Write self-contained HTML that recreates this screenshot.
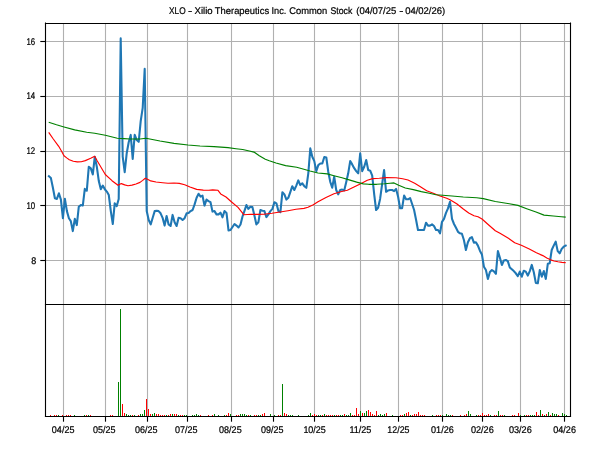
<!DOCTYPE html>
<html><head><meta charset="utf-8"><title>XLO</title>
<style>
html,body{margin:0;padding:0;background:#fff;}
body{width:600px;height:450px;overflow:hidden;}
svg{display:block;will-change:transform;transform:translateZ(0);}
text{font-family:"Liberation Sans",sans-serif;fill:#000;stroke:#000;stroke-width:0.22px;text-rendering:geometricPrecision;}
</style></head><body>
<svg width="600" height="450" viewBox="0 0 600 450">
<rect x="0" y="0" width="600" height="450" fill="#ffffff"/>
<g stroke="#b0b0b0" stroke-width="1.11" fill="none">
<line x1="63.5" y1="23.5" x2="63.5" y2="416.5"/>
<line x1="105.5" y1="23.5" x2="105.5" y2="416.5"/>
<line x1="147.5" y1="23.5" x2="147.5" y2="416.5"/>
<line x1="187.5" y1="23.5" x2="187.5" y2="416.5"/>
<line x1="231.5" y1="23.5" x2="231.5" y2="416.5"/>
<line x1="273.5" y1="23.5" x2="273.5" y2="416.5"/>
<line x1="314.5" y1="23.5" x2="314.5" y2="416.5"/>
<line x1="360.5" y1="23.5" x2="360.5" y2="416.5"/>
<line x1="398.5" y1="23.5" x2="398.5" y2="416.5"/>
<line x1="442.5" y1="23.5" x2="442.5" y2="416.5"/>
<line x1="482.5" y1="23.5" x2="482.5" y2="416.5"/>
<line x1="520.5" y1="23.5" x2="520.5" y2="416.5"/>
<line x1="564.5" y1="23.5" x2="564.5" y2="416.5"/>
<line x1="45.5" y1="41.5" x2="570.5" y2="41.5"/>
<line x1="45.5" y1="96.5" x2="570.5" y2="96.5"/>
<line x1="45.5" y1="151.5" x2="570.5" y2="151.5"/>
<line x1="45.5" y1="205.5" x2="570.5" y2="205.5"/>
<line x1="45.5" y1="260.5" x2="570.5" y2="260.5"/>
</g>
<g>
<rect x="50" y="415" width="1" height="1" fill="#ff0000"/>
<rect x="54" y="415" width="1" height="1" fill="#ff0000"/>
<rect x="56" y="415" width="1" height="1" fill="#ff0000"/>
<rect x="58" y="415" width="1" height="1" fill="#008000"/>
<rect x="62" y="415" width="1" height="1" fill="#ff0000"/>
<rect x="66" y="415" width="1" height="1" fill="#ff0000"/>
<rect x="68" y="415" width="1" height="1" fill="#ff0000"/>
<rect x="70" y="415" width="1" height="1" fill="#ff0000"/>
<rect x="74" y="415" width="1" height="1" fill="#008000"/>
<rect x="84" y="415" width="1" height="1" fill="#008000"/>
<rect x="86" y="415" width="1" height="1" fill="#ff0000"/>
<rect x="88" y="415" width="1" height="1" fill="#008000"/>
<rect x="90" y="415" width="1" height="1" fill="#ff0000"/>
<rect x="110" y="415" width="1" height="1" fill="#ff0000"/>
<rect x="112" y="415" width="1" height="1" fill="#ff0000"/>
<rect x="118" y="382" width="1" height="34" fill="#008000"/>
<rect x="120" y="309" width="1" height="107" fill="#008000"/>
<rect x="122" y="404" width="1" height="12" fill="#ff0000"/>
<rect x="124" y="413" width="1" height="3" fill="#ff0000"/>
<rect x="126" y="414" width="1" height="2" fill="#008000"/>
<rect x="128" y="415" width="1" height="1" fill="#008000"/>
<rect x="130" y="415" width="1" height="1" fill="#008000"/>
<rect x="132" y="415" width="1" height="1" fill="#ff0000"/>
<rect x="134" y="415" width="1" height="1" fill="#008000"/>
<rect x="138" y="415" width="1" height="1" fill="#ff0000"/>
<rect x="140" y="414" width="1" height="2" fill="#008000"/>
<rect x="142" y="414" width="1" height="2" fill="#008000"/>
<rect x="144" y="410" width="1" height="6" fill="#008000"/>
<rect x="146" y="399" width="1" height="17" fill="#ff0000"/>
<rect x="148" y="409" width="1" height="7" fill="#ff0000"/>
<rect x="150" y="414" width="1" height="2" fill="#ff0000"/>
<rect x="152" y="414" width="1" height="2" fill="#008000"/>
<rect x="154" y="413" width="1" height="3" fill="#008000"/>
<rect x="156" y="414" width="1" height="2" fill="#ff0000"/>
<rect x="158" y="414" width="1" height="2" fill="#ff0000"/>
<rect x="160" y="415" width="1" height="1" fill="#ff0000"/>
<rect x="162" y="415" width="1" height="1" fill="#ff0000"/>
<rect x="164" y="415" width="1" height="1" fill="#ff0000"/>
<rect x="166" y="415" width="1" height="1" fill="#008000"/>
<rect x="168" y="415" width="1" height="1" fill="#ff0000"/>
<rect x="170" y="414" width="1" height="2" fill="#ff0000"/>
<rect x="172" y="414" width="1" height="2" fill="#008000"/>
<rect x="174" y="414" width="1" height="2" fill="#ff0000"/>
<rect x="176" y="414" width="1" height="2" fill="#ff0000"/>
<rect x="178" y="415" width="1" height="1" fill="#008000"/>
<rect x="180" y="415" width="1" height="1" fill="#ff0000"/>
<rect x="182" y="415" width="1" height="1" fill="#ff0000"/>
<rect x="184" y="415" width="1" height="1" fill="#008000"/>
<rect x="186" y="415" width="1" height="1" fill="#008000"/>
<rect x="192" y="415" width="1" height="1" fill="#008000"/>
<rect x="194" y="415" width="1" height="1" fill="#008000"/>
<rect x="196" y="414" width="1" height="2" fill="#008000"/>
<rect x="198" y="415" width="1" height="1" fill="#008000"/>
<rect x="200" y="415" width="1" height="1" fill="#ff0000"/>
<rect x="208" y="415" width="1" height="1" fill="#ff0000"/>
<rect x="212" y="415" width="1" height="1" fill="#ff0000"/>
<rect x="214" y="414" width="1" height="2" fill="#008000"/>
<rect x="218" y="415" width="1" height="1" fill="#008000"/>
<rect x="224" y="415" width="1" height="1" fill="#008000"/>
<rect x="226" y="415" width="1" height="1" fill="#ff0000"/>
<rect x="228" y="413" width="1" height="3" fill="#ff0000"/>
<rect x="230" y="414" width="1" height="2" fill="#008000"/>
<rect x="236" y="415" width="1" height="1" fill="#ff0000"/>
<rect x="238" y="415" width="1" height="1" fill="#ff0000"/>
<rect x="240" y="414" width="1" height="2" fill="#008000"/>
<rect x="242" y="414" width="1" height="2" fill="#008000"/>
<rect x="244" y="414" width="1" height="2" fill="#008000"/>
<rect x="246" y="415" width="1" height="1" fill="#008000"/>
<rect x="248" y="415" width="1" height="1" fill="#ff0000"/>
<rect x="250" y="415" width="1" height="1" fill="#008000"/>
<rect x="254" y="415" width="1" height="1" fill="#ff0000"/>
<rect x="256" y="415" width="1" height="1" fill="#ff0000"/>
<rect x="258" y="415" width="1" height="1" fill="#008000"/>
<rect x="260" y="415" width="1" height="1" fill="#008000"/>
<rect x="262" y="414" width="1" height="2" fill="#ff0000"/>
<rect x="264" y="413" width="1" height="3" fill="#ff0000"/>
<rect x="270" y="414" width="1" height="2" fill="#008000"/>
<rect x="274" y="415" width="1" height="1" fill="#008000"/>
<rect x="278" y="415" width="1" height="1" fill="#ff0000"/>
<rect x="280" y="415" width="1" height="1" fill="#ff0000"/>
<rect x="282" y="384" width="1" height="32" fill="#008000"/>
<rect x="284" y="413" width="1" height="3" fill="#ff0000"/>
<rect x="286" y="414" width="1" height="2" fill="#ff0000"/>
<rect x="288" y="415" width="1" height="1" fill="#008000"/>
<rect x="290" y="415" width="1" height="1" fill="#008000"/>
<rect x="292" y="415" width="1" height="1" fill="#008000"/>
<rect x="298" y="415" width="1" height="1" fill="#008000"/>
<rect x="308" y="415" width="1" height="1" fill="#008000"/>
<rect x="310" y="413" width="1" height="3" fill="#008000"/>
<rect x="312" y="415" width="1" height="1" fill="#ff0000"/>
<rect x="314" y="414" width="1" height="2" fill="#ff0000"/>
<rect x="316" y="415" width="1" height="1" fill="#ff0000"/>
<rect x="318" y="415" width="1" height="1" fill="#008000"/>
<rect x="320" y="415" width="1" height="1" fill="#008000"/>
<rect x="322" y="415" width="1" height="1" fill="#ff0000"/>
<rect x="324" y="414" width="1" height="2" fill="#008000"/>
<rect x="326" y="415" width="1" height="1" fill="#ff0000"/>
<rect x="328" y="415" width="1" height="1" fill="#ff0000"/>
<rect x="330" y="415" width="1" height="1" fill="#ff0000"/>
<rect x="332" y="415" width="1" height="1" fill="#ff0000"/>
<rect x="334" y="415" width="1" height="1" fill="#008000"/>
<rect x="336" y="415" width="1" height="1" fill="#ff0000"/>
<rect x="338" y="415" width="1" height="1" fill="#ff0000"/>
<rect x="340" y="415" width="1" height="1" fill="#008000"/>
<rect x="342" y="415" width="1" height="1" fill="#008000"/>
<rect x="344" y="414" width="1" height="2" fill="#ff0000"/>
<rect x="346" y="415" width="1" height="1" fill="#008000"/>
<rect x="348" y="415" width="1" height="1" fill="#008000"/>
<rect x="350" y="413" width="1" height="3" fill="#008000"/>
<rect x="352" y="415" width="1" height="1" fill="#ff0000"/>
<rect x="354" y="415" width="1" height="1" fill="#ff0000"/>
<rect x="356" y="408" width="1" height="8" fill="#ff0000"/>
<rect x="358" y="414" width="1" height="2" fill="#ff0000"/>
<rect x="360" y="411" width="1" height="5" fill="#008000"/>
<rect x="362" y="413" width="1" height="3" fill="#ff0000"/>
<rect x="364" y="413" width="1" height="3" fill="#008000"/>
<rect x="366" y="411" width="1" height="5" fill="#008000"/>
<rect x="368" y="410" width="1" height="6" fill="#ff0000"/>
<rect x="370" y="412" width="1" height="4" fill="#ff0000"/>
<rect x="372" y="414" width="1" height="2" fill="#ff0000"/>
<rect x="374" y="415" width="1" height="1" fill="#ff0000"/>
<rect x="376" y="411" width="1" height="5" fill="#ff0000"/>
<rect x="378" y="415" width="1" height="1" fill="#008000"/>
<rect x="380" y="414" width="1" height="2" fill="#008000"/>
<rect x="382" y="415" width="1" height="1" fill="#008000"/>
<rect x="384" y="414" width="1" height="2" fill="#008000"/>
<rect x="386" y="413" width="1" height="3" fill="#ff0000"/>
<rect x="392" y="415" width="1" height="1" fill="#008000"/>
<rect x="400" y="415" width="1" height="1" fill="#ff0000"/>
<rect x="402" y="415" width="1" height="1" fill="#ff0000"/>
<rect x="404" y="414" width="1" height="2" fill="#008000"/>
<rect x="406" y="413" width="1" height="3" fill="#ff0000"/>
<rect x="408" y="412" width="1" height="4" fill="#ff0000"/>
<rect x="410" y="415" width="1" height="1" fill="#008000"/>
<rect x="412" y="415" width="1" height="1" fill="#ff0000"/>
<rect x="414" y="414" width="1" height="2" fill="#ff0000"/>
<rect x="416" y="414" width="1" height="2" fill="#ff0000"/>
<rect x="418" y="412" width="1" height="4" fill="#ff0000"/>
<rect x="420" y="415" width="1" height="1" fill="#ff0000"/>
<rect x="422" y="415" width="1" height="1" fill="#ff0000"/>
<rect x="424" y="415" width="1" height="1" fill="#ff0000"/>
<rect x="432" y="415" width="1" height="1" fill="#008000"/>
<rect x="436" y="415" width="1" height="1" fill="#ff0000"/>
<rect x="438" y="415" width="1" height="1" fill="#ff0000"/>
<rect x="440" y="415" width="1" height="1" fill="#ff0000"/>
<rect x="442" y="415" width="1" height="1" fill="#008000"/>
<rect x="446" y="414" width="1" height="2" fill="#008000"/>
<rect x="448" y="415" width="1" height="1" fill="#008000"/>
<rect x="450" y="415" width="1" height="1" fill="#008000"/>
<rect x="452" y="415" width="1" height="1" fill="#ff0000"/>
<rect x="460" y="415" width="1" height="1" fill="#ff0000"/>
<rect x="464" y="415" width="1" height="1" fill="#ff0000"/>
<rect x="466" y="414" width="1" height="2" fill="#ff0000"/>
<rect x="468" y="411" width="1" height="5" fill="#008000"/>
<rect x="470" y="414" width="1" height="2" fill="#008000"/>
<rect x="476" y="415" width="1" height="1" fill="#008000"/>
<rect x="478" y="415" width="1" height="1" fill="#ff0000"/>
<rect x="480" y="415" width="1" height="1" fill="#ff0000"/>
<rect x="482" y="413" width="1" height="3" fill="#ff0000"/>
<rect x="484" y="415" width="1" height="1" fill="#ff0000"/>
<rect x="486" y="415" width="1" height="1" fill="#ff0000"/>
<rect x="488" y="414" width="1" height="2" fill="#ff0000"/>
<rect x="490" y="415" width="1" height="1" fill="#008000"/>
<rect x="494" y="415" width="1" height="1" fill="#ff0000"/>
<rect x="496" y="415" width="1" height="1" fill="#ff0000"/>
<rect x="498" y="411" width="1" height="5" fill="#008000"/>
<rect x="500" y="415" width="1" height="1" fill="#ff0000"/>
<rect x="502" y="415" width="1" height="1" fill="#ff0000"/>
<rect x="504" y="415" width="1" height="1" fill="#008000"/>
<rect x="512" y="415" width="1" height="1" fill="#ff0000"/>
<rect x="514" y="415" width="1" height="1" fill="#ff0000"/>
<rect x="518" y="413" width="1" height="3" fill="#ff0000"/>
<rect x="520" y="415" width="1" height="1" fill="#008000"/>
<rect x="524" y="415" width="1" height="1" fill="#008000"/>
<rect x="526" y="415" width="1" height="1" fill="#ff0000"/>
<rect x="528" y="415" width="1" height="1" fill="#ff0000"/>
<rect x="530" y="415" width="1" height="1" fill="#008000"/>
<rect x="532" y="415" width="1" height="1" fill="#008000"/>
<rect x="534" y="415" width="1" height="1" fill="#008000"/>
<rect x="536" y="412" width="1" height="4" fill="#ff0000"/>
<rect x="538" y="415" width="1" height="1" fill="#ff0000"/>
<rect x="540" y="410" width="1" height="6" fill="#008000"/>
<rect x="542" y="414" width="1" height="2" fill="#ff0000"/>
<rect x="544" y="415" width="1" height="1" fill="#008000"/>
<rect x="546" y="414" width="1" height="2" fill="#ff0000"/>
<rect x="548" y="412" width="1" height="4" fill="#008000"/>
<rect x="550" y="415" width="1" height="1" fill="#ff0000"/>
<rect x="552" y="413" width="1" height="3" fill="#008000"/>
<rect x="554" y="414" width="1" height="2" fill="#008000"/>
<rect x="556" y="414" width="1" height="2" fill="#008000"/>
<rect x="558" y="415" width="1" height="1" fill="#ff0000"/>
<rect x="562" y="413" width="1" height="3" fill="#008000"/>
<rect x="564" y="414" width="1" height="2" fill="#008000"/>
<rect x="566" y="415" width="1" height="1" fill="#008000"/>
</g>
<polyline fill="none" stroke="#1f77b4" stroke-width="2.08" stroke-linejoin="round" stroke-linecap="square" points="48.9,176.2 50.9,178.1 52.9,187.8 54.9,198.2 56.9,198.9 58.9,193.3 60.9,199.6 62.9,218.2 64.9,198.9 66.9,211.1 68.9,218.2 70.8,221.1 72.8,231.1 74.8,218.9 76.8,225.1 78.8,206.7 80.8,205.1 82.8,205.6 84.8,188.9 86.8,190.7 88.8,166.7 90.8,168.4 92.8,174.4 94.8,156.7 96.8,166.7 98.8,181.1 100.8,189.3 102.8,185.6 104.8,189.3 106.8,191.6 108.8,195.1 110.8,211.1 112.8,224.0 114.7,203.3 116.7,206.2 118.7,198.9 120.7,38.4 122.7,156.7 124.7,172.2 126.7,153.3 128.7,142.2 130.7,134.9 132.7,158.9 134.7,134.9 136.7,140.0 138.7,141.8 140.7,121.1 142.7,107.8 144.7,68.9 146.7,211.1 148.7,220.0 150.7,224.4 152.7,217.8 154.7,211.1 156.7,210.7 158.6,211.1 160.6,213.3 162.6,217.8 164.6,225.6 166.6,216.0 168.6,224.4 170.6,226.0 172.6,214.9 174.6,222.2 176.6,226.0 178.6,217.8 180.6,218.2 182.6,220.0 184.6,218.2 186.6,213.3 188.6,212.9 190.6,211.1 192.6,210.0 194.6,204.4 196.6,197.8 198.6,193.8 200.6,196.7 202.5,195.6 204.5,205.6 206.5,199.6 208.5,201.1 210.5,202.2 212.5,211.6 214.5,211.1 216.5,214.4 218.5,214.4 220.5,212.7 222.5,217.3 224.5,211.1 226.5,212.9 228.5,230.4 230.5,230.0 232.5,227.0 234.5,224.0 236.5,225.6 238.5,227.5 240.5,224.5 242.5,216.5 244.4,211.1 246.4,205.1 248.4,208.9 250.4,206.7 252.4,207.1 254.4,215.6 256.4,224.4 258.4,222.2 260.4,210.0 262.4,210.7 264.4,211.1 266.4,217.1 268.4,214.4 270.4,211.1 272.4,208.9 274.4,202.2 276.4,203.3 278.4,211.1 280.4,212.2 282.4,192.2 284.4,194.4 286.4,199.6 288.3,197.8 290.3,192.2 292.3,186.2 294.3,190.0 296.3,185.6 298.3,180.4 300.3,185.1 302.3,183.3 304.3,186.2 306.3,187.8 308.3,173.3 310.3,148.4 312.3,156.7 314.3,161.1 316.3,171.1 318.3,165.1 320.3,163.5 322.3,163.5 324.3,157.0 326.3,157.5 328.3,172.0 330.3,182.0 332.2,187.8 334.2,176.7 336.2,190.0 338.2,194.4 340.2,190.0 342.2,189.6 344.2,190.4 346.2,182.2 348.2,173.3 350.2,161.1 352.2,164.4 354.2,168.2 356.2,171.1 358.2,173.3 360.2,153.3 362.2,171.1 364.2,166.7 366.2,160.0 368.2,170.0 370.2,170.7 372.2,175.6 374.2,194.4 376.1,210.0 378.1,207.8 380.1,198.9 382.1,184.4 384.1,170.0 386.1,191.8 388.1,190.4 390.1,190.0 392.1,190.0 394.1,191.1 396.1,188.9 398.1,196.7 400.1,208.2 402.1,208.2 404.1,195.6 406.1,199.3 408.1,199.3 410.1,198.0 412.1,204.0 414.1,210.0 416.1,220.0 418.0,230.0 420.0,230.0 422.0,230.0 424.0,230.0 426.0,222.7 428.0,225.6 430.0,225.6 432.0,224.4 434.0,226.0 436.0,230.0 438.0,230.0 440.0,233.3 442.0,221.8 444.0,218.9 446.0,212.9 448.0,208.4 450.0,201.8 452.0,218.9 454.0,224.0 456.0,227.8 458.0,231.8 460.0,233.3 461.9,233.8 463.9,240.0 465.9,250.0 467.9,242.2 469.9,238.2 471.9,237.1 473.9,242.7 475.9,242.2 477.9,245.6 479.9,250.7 481.9,254.4 483.9,266.7 485.9,270.0 487.9,279.0 489.9,272.0 491.9,270.0 493.9,271.4 495.9,273.8 497.9,251.0 499.9,257.8 501.9,265.0 503.9,260.4 505.8,260.0 507.8,261.1 509.8,267.5 511.8,269.3 513.8,271.1 515.8,273.3 517.8,276.2 519.8,271.6 521.8,276.7 523.8,270.7 525.8,271.6 527.8,275.6 529.8,271.1 531.8,264.9 533.8,272.2 535.8,282.9 537.8,283.3 539.8,270.0 541.8,276.7 543.8,271.1 545.8,278.9 547.8,263.8 549.7,263.3 551.7,250.0 553.7,245.6 555.7,241.6 557.7,251.1 559.7,253.3 561.7,248.9 563.7,246.7 565.7,245.6"/>
<polyline fill="none" stroke="#ff0000" stroke-width="1.15" stroke-linejoin="round" points="48.7,132.3 53.3,139.0 58.7,146.3 61.3,150.7 64.0,155.7 66.7,157.9 69.3,159.7 73.3,161.3 77.3,161.9 81.3,161.7 85.3,160.6 90.7,158.3 94.7,156.3 97.3,161.0 101.3,167.7 105.3,174.5 112.0,180.7 118.0,185.3 121.3,183.6 124.7,184.9 128.0,185.7 132.0,185.1 136.0,184.0 140.0,182.4 142.7,180.4 145.3,178.3 148.0,179.6 150.7,180.9 156.0,182.0 162.7,182.7 168.0,183.2 174.0,183.0 179.3,183.4 184.7,184.7 190.0,187.0 196.7,189.4 203.3,190.1 208.7,190.3 212.7,189.9 218.0,190.3 220.7,193.9 226.0,197.0 231.3,201.7 238.0,207.4 244.0,214.8 250.7,214.3 257.3,214.4 264.0,214.3 272.0,213.3 280.0,212.0 288.0,210.7 296.0,209.3 304.0,208.4 308.0,207.3 313.3,204.7 318.0,201.8 326.0,197.4 334.0,193.7 340.7,191.7 347.3,190.3 354.0,187.0 360.7,183.7 367.3,180.3 372.7,178.6 379.3,178.3 386.7,177.6 396.0,177.7 402.7,178.7 408.0,180.0 414.7,183.3 420.0,186.4 426.7,190.7 433.3,193.3 440.0,196.0 446.7,198.3 450.0,199.7 456.7,203.7 463.3,209.0 468.7,213.0 474.0,215.7 478.0,216.7 482.0,219.0 488.7,225.0 495.3,230.7 500.0,233.3 508.0,238.0 514.7,242.7 521.3,245.3 529.3,248.9 536.4,252.8 542.8,255.6 546.8,258.0 550.0,259.6 554.0,261.0 558.0,261.8 562.0,262.4 565.7,262.6"/>
<polyline fill="none" stroke="#008000" stroke-width="1.15" stroke-linejoin="round" points="48.7,122.3 56.5,124.8 64.0,127.0 74.7,129.9 86.7,132.3 94.7,133.2 105.3,135.3 117.3,138.2 124.0,138.6 130.0,139.0 140.0,139.0 146.0,138.2 160.0,141.0 174.0,143.4 188.0,145.0 200.0,146.0 214.0,146.6 228.0,147.6 236.0,148.7 242.7,149.5 249.3,151.0 254.0,152.1 259.3,155.7 265.3,159.3 269.3,160.8 276.0,163.0 285.6,165.6 296.7,167.3 303.0,169.0 310.0,171.0 318.0,173.0 327.3,173.9 334.0,175.7 342.0,177.7 350.0,180.1 356.7,182.1 363.3,183.9 368.7,184.3 376.7,184.3 384.7,183.8 390.0,183.3 394.0,182.9 398.7,185.3 405.3,188.0 413.3,189.6 421.3,191.6 429.3,193.3 436.0,194.7 442.7,195.3 452.0,196.0 463.3,197.0 476.7,197.7 483.3,198.6 495.3,201.5 509.3,203.7 518.0,205.4 526.7,208.7 536.0,212.0 544.0,215.1 553.3,216.0 561.3,216.7 565.7,217.1"/>
<g stroke="#000" stroke-width="1.11" fill="none" stroke-linecap="butt">
<line x1="45.5" y1="22.4" x2="45.5" y2="417.05"/>
<line x1="570.5" y1="22.4" x2="570.5" y2="417.05"/>
<line x1="44.95" y1="23.5" x2="571.05" y2="23.5"/>
<line x1="44.95" y1="416.5" x2="571.05" y2="416.5"/>
<line x1="44.95" y1="304.5" x2="571.05" y2="304.5"/>
</g>
<g stroke="#000" stroke-width="1.11" stroke-linecap="butt">
<line x1="63.5" y1="416.5" x2="63.5" y2="421.7"/>
<line x1="105.5" y1="416.5" x2="105.5" y2="421.7"/>
<line x1="147.5" y1="416.5" x2="147.5" y2="421.7"/>
<line x1="187.5" y1="416.5" x2="187.5" y2="421.7"/>
<line x1="231.5" y1="416.5" x2="231.5" y2="421.7"/>
<line x1="273.5" y1="416.5" x2="273.5" y2="421.7"/>
<line x1="314.5" y1="416.5" x2="314.5" y2="421.7"/>
<line x1="360.5" y1="416.5" x2="360.5" y2="421.7"/>
<line x1="398.5" y1="416.5" x2="398.5" y2="421.7"/>
<line x1="442.5" y1="416.5" x2="442.5" y2="421.7"/>
<line x1="482.5" y1="416.5" x2="482.5" y2="421.7"/>
<line x1="520.5" y1="416.5" x2="520.5" y2="421.7"/>
<line x1="564.5" y1="416.5" x2="564.5" y2="421.7"/>
<line x1="40.3" y1="41.5" x2="45.5" y2="41.5"/>
<line x1="40.3" y1="96.5" x2="45.5" y2="96.5"/>
<line x1="40.3" y1="151.5" x2="45.5" y2="151.5"/>
<line x1="40.3" y1="205.5" x2="45.5" y2="205.5"/>
<line x1="40.3" y1="260.5" x2="45.5" y2="260.5"/>
</g>
<g font-size="9.7">
<text x="51.87" y="433" textLength="22.55" lengthAdjust="spacingAndGlyphs">04/25</text>
<text x="92.97" y="433" textLength="22.5" lengthAdjust="spacingAndGlyphs">05/25</text>
<text x="134.97" y="433" textLength="22.55" lengthAdjust="spacingAndGlyphs">06/25</text>
<text x="174.97" y="433" textLength="22.55" lengthAdjust="spacingAndGlyphs">07/25</text>
<text x="219.07" y="433" textLength="22.6" lengthAdjust="spacingAndGlyphs">08/25</text>
<text x="261.07" y="433" textLength="22.45" lengthAdjust="spacingAndGlyphs">09/25</text>
<text x="303.39" y="433" textLength="22.42" lengthAdjust="spacingAndGlyphs">10/25</text>
<text x="349.38" y="433" textLength="22.03" lengthAdjust="spacingAndGlyphs">11/25</text>
<text x="387.3" y="433" textLength="22.2" lengthAdjust="spacingAndGlyphs">12/25</text>
<text x="431.07" y="433" textLength="22.65" lengthAdjust="spacingAndGlyphs">01/26</text>
<text x="470.96" y="433" textLength="22.8" lengthAdjust="spacingAndGlyphs">02/26</text>
<text x="508.96" y="433" textLength="22.8" lengthAdjust="spacingAndGlyphs">03/26</text>
<text x="553.27" y="433" textLength="22.65" lengthAdjust="spacingAndGlyphs">04/26</text>
</g>
<g font-size="9.7" text-anchor="end">
<text x="35.2" y="45" textLength="8.7" lengthAdjust="spacingAndGlyphs">16</text>
<text x="35.2" y="99" textLength="8.7" lengthAdjust="spacingAndGlyphs">14</text>
<text x="35.2" y="154" textLength="8.7" lengthAdjust="spacingAndGlyphs">12</text>
<text x="35.2" y="209" textLength="8.7" lengthAdjust="spacingAndGlyphs">10</text>
<text x="36.300000000000004" y="264" textLength="5.0" lengthAdjust="spacingAndGlyphs">8</text>
</g>
<g font-size="9.7">
<text x="169.07" y="14.0" textLength="16.59" lengthAdjust="spacingAndGlyphs">XLO</text>
<text x="187.9" y="14.0" textLength="4.26" lengthAdjust="spacingAndGlyphs">-</text>
<text x="194.55" y="14.0" textLength="18.04" lengthAdjust="spacingAndGlyphs">Xilio</text>
<text x="214.85" y="14.0" textLength="54.24" lengthAdjust="spacingAndGlyphs">Therapeutics</text>
<text x="271.48" y="14.0" textLength="14.85" lengthAdjust="spacingAndGlyphs">Inc.</text>
<text x="289.26" y="14.0" textLength="37.96" lengthAdjust="spacingAndGlyphs">Common</text>
<text x="330.53" y="14.0" textLength="21.84" lengthAdjust="spacingAndGlyphs">Stock</text>
<text x="356.26" y="14.0" textLength="39.93" lengthAdjust="spacingAndGlyphs">(04/07/25</text>
<text x="399.31" y="14.0" textLength="4.14" lengthAdjust="spacingAndGlyphs">-</text>
<text x="405.2" y="14.0" textLength="39.99" lengthAdjust="spacingAndGlyphs">04/02/26)</text>
</g>
</svg>
</body></html>
